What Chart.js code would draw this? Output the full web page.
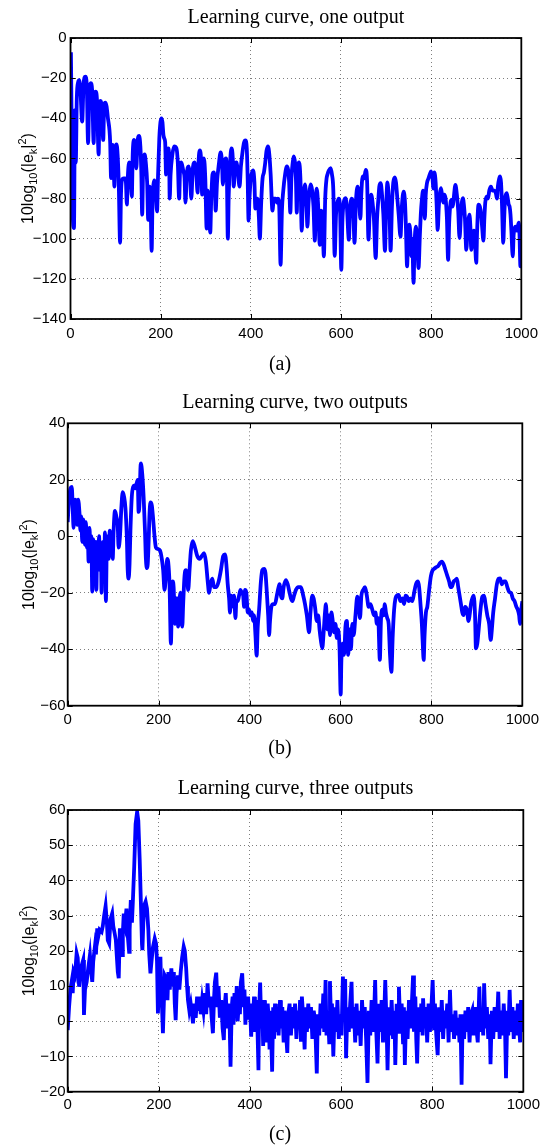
<!DOCTYPE html>
<html>
<head>
<meta charset="utf-8">
<script src="https://cdn.jsdelivr.net/npm/chart.js@4.4.1/dist/chart.umd.min.js"></script>
<style>
  body { margin: 0; background: #fff; width: 544px; height: 1145px; position: relative; overflow: hidden; }
  .panel { position: absolute; left: 0; width: 544px; }
  .cap { position: absolute; width: 60px; margin-left: -30px; text-align: center;
         font-family: 'Liberation Serif', 'Times New Roman', serif; font-size: 20px; line-height: 20px; color: #000; }
</style>
</head>
<body>
<div class="panel" style="top:0;height:380px"><canvas id="chartA"></canvas></div>
<div class="panel" style="top:380px;height:380px"><canvas id="chartB"></canvas></div>
<div class="panel" style="top:760px;height:385px"><canvas id="chartC"></canvas></div>
<div class="cap" style="left:280px;top:353px">(a)</div>
<div class="cap" style="left:280px;top:737px">(b)</div>
<div class="cap" style="left:280px;top:1123px">(c)</div>
<script>
// iteration k, error in dB: [k, 10log10(|e_k|^2)]
const curveOne = [
  [0,-85],[1,-8],[3,-60],[5,-88],[7.7,-94.7],[9.8,-36],[11.7,-62],[14,-30],[17,-22],[19.3,-21],
  [22,-26],[25.9,-41.6],[29,-23],[33,-19.3],[36,-23],[39,-52.4],[42,-25],[44.9,-22.5],[48,-26],[51.4,-52.4],
  [53.5,-30],[55.8,-26.7],[59,-32],[62.4,-58],[64.5,-34],[66.7,-31.4],[69.5,-35],[72.6,-50.8],[74.5,-35],[77,-32.2],
  [80,-34],[83,-40],[86.4,-45.8],[88,-52],[90,-69.8],[92,-54],[93.7,-53.3],[95.5,-60],[97.4,-74],[99.5,-56],
  [102,-53],[104.5,-58],[107,-72],[110,-102],[112,-78],[114,-71],[118,-70],[121,-70],[123,-72],[125,-83],
  [127,-70],[130,-62],[133,-66],[136,-79],[138,-58],[141,-50.8],[143.5,-54],[146,-65],[148.5,-52],[152,-48.8],
  [155,-54],[157,-66],[159,-88],[161,-66],[164.5,-58],[167,-62],[170,-72],[172.4,-90.6],[174,-76],[175.5,-74],
  [177.5,-80],[180,-106],[182,-80],[184,-73],[186,-71],[189,-76],[192,-86.4],[194,-70],[197,-50],[199.5,-42],
  [201.7,-40],[204,-42],[206,-48],[208,-50],[210,-52],[212,-68],[214,-56],[217,-55],[219,-62],[220,-80],
  [222,-68],[226,-58],[230,-54],[235,-55],[238,-62],[241,-80],[243,-66],[246,-62],[250,-66],[253,-70],
  [255,-82],[258,-68],[262,-64],[265,-68],[268,-80],[271,-66],[275,-62],[279,-68],[282,-77],[284,-62],
  [287,-56],[290,-62],[292,-78],[294,-65],[296,-60],[299,-70],[302,-95],[304,-76],[306,-78],[308,-90],
  [310,-97],[312,-82],[315,-68],[318,-67],[320,-72],[322,-86],[325,-72],[329,-63],[333,-57],[336,-62],
  [338,-73],[341,-62],[345,-60],[347,-70],[349,-100],[351,-78],[354,-62],[357,-55],[360,-60],[362,-74],
  [365,-64],[368,-62],[371,-66],[375,-74],[378,-64],[382,-56],[385,-52],[388,-51],[391,-55],[393,-70],
  [395,-91],[397,-80],[400,-70],[405,-66],[408,-72],[410,-85],[412,-80],[415,-80],[418,-90],[420,-100],
  [423,-82],[426,-70],[429,-67],[432,-62],[435,-56],[438,-54],[441,-58],[444,-68],[448,-86],[451,-80],
  [455,-80],[458,-82],[460,-80],[463,-84],[466,-113],[469,-86],[472,-76],[476,-68],[480,-64],[483,-66],
  [485,-72],[487.6,-87],[490,-70],[493,-62],[495,-59],[498,-62],[500,-70],[502,-87],[504,-64],[507,-62],
  [510,-70],[513,-96],[515,-84],[518,-76],[520,-73],[523,-80],[525.6,-94],[528,-82],[531,-75],[533,-73],
  [536,-76],[539,-84],[542,-101],[544,-82],[546,-75],[549,-82],[553,-103],[556,-86],[559,-90],[562,-108.8],
  [565,-80],[568,-70],[570,-68],[573,-66],[577,-64.8],[580,-68],[583,-76],[586,-108.5],[589,-88],[592,-82],
  [595,-80],[598,-86],[600.7,-115.5],[603,-92],[606,-82],[610,-79.8],[613,-84],[617.5,-100.5],[620,-86],[624,-80],
  [627,-84],[630,-102],[633,-82],[637,-74],[640,-80],[643,-90],[645,-78],[648,-69],[651,-70],[655,-65.7],
  [658,-72],[661,-100.5],[664,-84],[667,-78],[670,-82],[673,-90],[677,-109.6],[680,-90],[683,-80],[685,-74],
  [688,-72.3],[691,-78],[694,-88],[697.6,-106],[700,-86],[703,-72],[706,-80],[708,-90],[710,-106],[713,-84],
  [716,-72],[719.5,-69.5],[722,-72],[725,-80],[728,-88],[732,-99],[735,-84],[739,-76.5],[742,-82],[744,-94],
  [746.6,-113.8],[749,-98],[751.6,-93],[754,-98],[756,-108.8],[758,-100],[761,-122],[763,-104],[766,-94],[769,-100],
  [772,-114.6],[775,-98],[777,-88],[779.4,-80.6],[782,-76],[784,-80],[786,-90],[788,-78],[791,-72],[794,-70],
  [797,-68],[799.8,-66.5],[803,-70],[805,-75],[807,-67],[810,-72],[812,-82],[814.5,-95.6],[817,-84],[819,-78],
  [821.7,-74.8],[824,-78],[826.7,-82],[829,-78],[832,-80],[835,-90],[837.6,-110.5],[840,-92],[843,-82],[845,-80.6],
  [848,-84],[850,-80],[853.8,-73.2],[857,-78],[860,-86],[863,-99.7],[866,-88],[868,-82],[870.5,-79.8],[873,-84],
  [875,-90],[878,-105.5],[881,-94],[883,-90],[885,-88],[887,-94],[889,-105.5],[892,-98],[895,-96],[897,-100],
  [900,-112],[902,-96],[905,-83],[908,-84],[911,-88],[913,-94],[916,-101],[918,-90],[920,-82],[923,-79],
  [926,-80],[929,-76],[932.6,-74],[936,-76],[940,-76],[943.5,-77.3],[946,-80],[948,-74],[951,-70],[953,-69],
  [955,-72],[957,-82],[960,-102],[962,-90],[964,-80],[967.6,-77.3],[970,-80],[972,-83],[974,-84],[976,-88],
  [978,-96],[981,-108.8],[983,-98],[985,-95],[987,-94],[990,-96],[992,-94],[994.5,-92],[996,-98],[998,-113.8],
  [1000,-100]
];

const curveTwo = [
  [0,5],[3,13],[6,17],[9,17.5],[11,10],[13,3],[16,13],[19,12],[21,4],[23,13],
  [26,8],[28,2],[30,7],[32,-2],[34,6],[36,3],[38,-3],[40,5],[42,-4],[44,1],
  [46,-9],[48,3],[50,-6],[52,0],[54,-19.6],[56,-1],[58,-5],[60,-13],[62,-2],[63,-19],
  [65,-3],[67,-9],[69,0],[71,-12],[73,-3],[74.5,-20],[76,-4],[78,-2],[80,-13],[82,1.4],
  [84,-23],[86,-3],[88,0],[90,-8],[92.7,2],[95,-3],[97,1],[99,-8],[101,2],[104,9],
  [107,7],[110,4],[112,-4],[115,0],[118,10],[121,15.6],[124,14],[127,10],[130,0],[132,-12],
  [134,-15],[136,-10],[138,2],[141,14],[144,17.5],[147,18],[150,17],[152,19],[154,20],[156,8.6],
  [158,12],[160,24],[161,25.8],[164,22],[167,14],[170,2],[172,-8],[174.6,-11.3],[176,-10],[178,-2],
  [180,8],[182,12],[185,11],[188,6],[191,0],[194,-4],[198,-4.5],[203,-5],[207,-8],[210,-12],
  [213,-19],[216,-14],[219,-8],[221,-9],[224,-17],[227,-38],[229,-25],[231,-16],[233,-18],[236,-31],
  [238,-22],[241,-22],[243,-32],[245,-25],[248,-20],[250,-28],[252,-32],[254,-24],[257,-14],[260,-12],
  [263,-15],[265,-19],[268,-12],[271,-5],[275,-1.7],[280,-4],[285,-7],[290,-8],[295,-7],[300,-6],
  [304,-9],[308,-16],[311,-20],[314,-17],[318,-15],[322,-18],[327,-18],[332,-16],[337,-12],[342,-7],
  [346,-6.4],[349,-10],[352,-17],[355,-22],[357,-27],[359,-21],[362,-22],[364,-25],[366,-21],[369,-29],
  [371,-23],[374,-23],[377,-21],[380,-19],[383,-20],[386,-21],[388,-25],[390,-19],[393,-20],[396,-27],
  [399,-26],[402,-28],[405,-27],[408,-30],[410,-28],[413,-35],[415.6,-42.3],[418,-32],[421,-26],[425,-16],
  [428,-12],[432,-11.6],[435,-13],[438,-20],[441,-28],[443,-35],[445,-30],[448,-25],[452,-24],[456,-24],
  [460,-21],[464,-18],[466,-17],[469,-21],[472,-22],[475,-18],[480,-15.5],[484,-17],[488,-20],[491,-22],
  [494.5,-23],[498,-21],[502,-19],[507,-18],[513,-18],[518,-21],[522,-24],[526,-28],[531,-34],[534,-27],
  [538,-21],[541,-22],[544,-25],[548,-30],[551,-28],[554,-33],[557,-37],[560,-39.7],[563,-34],[566,-27],
  [568,-24],[571,-33],[574,-28],[577,-35],[580,-27],[583,-30],[586,-34],[589,-31],[592,-36],[595,-33],
  [598,-40],[600.5,-56],[602,-44],[605,-38],[608,-42],[611,-32],[614,-30],[617,-42],[620,-33],[623,-40],
  [626,-31],[629,-35],[633,-28],[637,-21.4],[640,-24],[643,-29],[646,-21],[650,-19],[654,-18],[658,-21],
  [662,-25],[666,-24],[670,-26],[674,-28],[677,-27],[680,-31],[683,-29],[686.6,-43.8],[689,-30],[692,-26],
  [695,-28],[697.5,-24],[700,-27],[703,-29],[706,-31],[709,-42],[712,-48],[715,-35],[718,-26],[721,-22],
  [724,-21],[728,-20.8],[732,-23],[736,-22],[740,-24],[743,-21],[746.5,-21.4],[750,-23],[754,-22],[758,-23],
  [762,-20],[766,-17],[770.6,-16],[773,-18],[776,-24],[779,-31],[781,-38],[783,-43.8],[785,-35],[788,-27],
  [791,-25],[795,-19],[799,-14],[802.8,-12],[806,-11.5],[810,-11],[815,-10.5],[819,-9.5],[823,-9],[827,-10],
  [831,-12],[835,-14],[839,-16],[842,-18],[845,-17.9],[849,-16],[853,-15.5],[856,-15],[859,-18],[862,-21],
  [865,-24],[868,-27],[871,-27.9],[874,-25],[878,-26],[881.7,-30],[884,-28],[887,-24],[890,-22],[893,-21],
  [896,-28],[898,-39.7],[901,-38],[904,-33],[908,-26],[912,-21.4],[916,-21],[919,-24],[923,-28],[927,-31],
  [930.5,-36.7],[933,-33],[936,-27],[940,-22],[944,-17],[948,-15],[951,-14.9],[955,-17],[959,-16],[963,-16],
  [967,-18],[971,-19.7],[975,-20],[979,-22],[983,-23],[987,-25],[990,-26],[993,-28],[995,-31],[997,-27],
  [1000,-23]
];

const curveThree = [
  [0,-2.5],[3,4],[6,9],[8.7,11.2],[11,8],[13,14],[16,13],[19.6,19.3],[22,18],[25,9.8],
  [28,14],[31,16],[34,17.4],[35.7,1.8],[38,9],[41.6,11.2],[45,15],[48.8,18.8],[51,15],[53.9,11.2],
  [56,17],[59.7,21.2],[62,19],[64.8,26.4],[67,24],[70,26],[74.4,25.4],[77,27],[80,30],[83.2,32.7],
  [86,28],[88,23],[91,22.1],[94,29],[97.6,30.6],[100,27],[103,25],[105.7,23],[108,18],[110,14],
  [112,12.2],[114.5,26.4],[117,22],[119.5,18.8],[121,25],[123,30.6],[126,28],[129,32],[131,25],[132,24],
  [134.8,19.7],[136,26],[138.5,34.4],[141,28],[143,34],[146,44],[149,56],[152.4,59.5],[155,57],[158,46],
  [161,32],[163,22],[164,20.2],[166,28],[168,33],[171,34],[174,32],[177,26],[179,19],[181.6,13.6],
  [184,17],[187,21],[191,23.5],[194,22],[196,17],[198,2.2],[200,8],[201,14],[203.5,18.3],[205,10],
  [207,4],[209,-3.4],[211,5],[213,13],[216.6,12],[219,6],[221,14],[224,9],[227.5,15],[230,10],
  [233,14],[235,5],[237,0.3],[239,8],[242,13],[245,9],[248,14],[251,18],[254.6,21.2],[257,20],
  [260,15],[262,10],[264,6],[267,3],[270,5],[273,2],[275,-0.6],[278,5],[281,1],[284,7],
  [287,3],[289.6,7],[292,2],[295,6],[298,3],[301,8],[304,2],[307,10.8],[310,4],[313,7],
  [316,1],[318.7,-3.4],[321,6],[323,11],[326,13.8],[329,4],[331,10],[334,1],[337,6],[340,-2],
  [342.7,-5.3],[345,5],[347,8],[350,-2],[352,5],[355,2],[357.4,-12.9],[360,4],[362,7],[364,-1],
  [366,8],[369,3],[371,10],[373,0],[376,6],[378,2],[380,11],[383,13.6],[386,4],[388,9],
  [390,-1],[392,6],[394,2],[396,7],[398,1],[400,5],[402.7,-4.4],[405,5],[407,2],[409,7],
  [411,-3],[413,4],[415,6],[418.7,-13.9],[420,3],[422.4,11],[425,-2],[427,4],[429,-7],[431,6],
  [433,-3],[435,3],[437,-6],[439,5],[441,1],[443,-8],[445,3],[448.7,-14.3],[451,4],[453,-5],
  [455,5],[457,-3],[460,2],[463,-4],[466,6],[468,-2],[471,4],[474,-6],[476,3],[479,-3],
  [482,-9],[484,2],[487,5],[490,-4],[493,4],[496,-2],[499,5],[502,-5],[505,3],[508,0],
  [510,6],[512,-5.8],[514,7],[517,1],[520,-8],[522,4],[525,-3],[528,5],[531,-2],[534,4],
  [537,-5],[540,3],[543,0],[546.7,-14.8],[549,2],[552,-4],[555,5],[558,-2],[561,7.9],[563,-3],
  [566,11.7],[568,-4],[571,3],[574,-6],[575.6,11.4],[578,0],[580,5],[583,-10],[586,4],[589,-3],
  [592,6],[595,-5],[598,2],[601,-4],[604,12.7],[607,3],[609,12],[611,-10.5],[614,4],[617,-3],
  [620,5],[623,11.2],[625,-2],[628,4],[631,-6],[634,5],[637,-4],[640,3],[643,-7],[646,6],
  [649,-2],[652,4],[655,-5],[658,-17.5],[661,3],[664,-4],[667,6],[670,-3],[673,4],[674.8,11.7],
  [677,-2],[680,-12],[683,5],[686,-3],[689,6],[692,-6],[695,3],[697,11.7],[700,-2],[702,-13.9],
  [705,4],[708,-4],[711,6],[714,-5],[717,3],[719,-12.4],[722,5],[725,-3],[727,9.8],[730,-2],
  [733,5],[736,-6],[738,4],[740,-12.4],[743,3],[746,-5],[749,6],[752,-2],[755,4],[758,13],
  [760,-3],[763,7],[765,-5],[767,-12],[770,4],[773,-3],[776,5],[779,-4],[780,6.5],[783,-2],
  [786,4],[789,-6],[792,5],[795,-3],[798,3],[801,11.7],[804,-2],[806,5],[809,-4],[812,-9.6],
  [815,4],[818,-3],[821,6],[824,-5],[827,3],[830,-2],[833,5],[836,-6],[839,8.9],[842,-3],
  [845,2],[848,-5],[851,3],[854,-4],[857,1],[860,-6],[862,2],[864.5,-18],[867,2],[870,-5],
  [873,3],[876,-3],[879,4],[882,-6],[885,2],[888,3.2],[891,-4],[894,4],[897,-2],[900,-6],
  [903.5,9.8],[906,-3],[909,3],[912,-4],[914,10.8],[917,-2],[920,4],[923,-5],[926,2],[928,-12.2],
  [931,3],[934,-5],[937,4],[940,-3],[943,2],[945,8.4],[948,-5],[951,3],[954,-4],[957,5],
  [960,-3],[962,-16.2],[965,3],[967,-4],[970,8.9],[973,-3],[976,4],[979,-5],[982,3],[985,-4],
  [988,5],[991,-2],[993,-6],[995,6],[998,-3],[1000,4]
];

const titles = ['Learning curve, one output', 'Learning curve, two outputs', 'Learning curve, three outputs'];
const kRange = [0, 1000, 200];
const yRangeOne = [-140, 0, 20];
const yRangeTwo = [-60, 40, 20];
const yRangeThree = [-20, 60, 10];

const sans = "'Liberation Sans', Arial, sans-serif";
const serif = "'Liberation Serif', 'Times New Roman', serif";

// box frame, inward ticks on all four sides, y label with sub/superscripts
const framePlugin = {
    id: 'frame',
    afterDraw(chart) {
        const { ctx, chartArea: a, scales: { x, y } } = chart;
        const tl = 5;
        ctx.save();
        ctx.strokeStyle = '#000';
        ctx.lineWidth = 1;
        ctx.beginPath();
        x.ticks.forEach(t => {
            const px = Math.round(x.getPixelForValue(t.value)) + 0.5;
            ctx.moveTo(px, a.bottom); ctx.lineTo(px, a.bottom - tl);
            ctx.moveTo(px, a.top); ctx.lineTo(px, a.top + tl);
        });
        y.ticks.forEach(t => {
            const py = Math.round(y.getPixelForValue(t.value)) + 0.5;
            ctx.moveTo(a.left, py); ctx.lineTo(a.left + tl, py);
            ctx.moveTo(a.right, py); ctx.lineTo(a.right - tl, py);
        });
        ctx.stroke();
        ctx.lineWidth = 1.8;
        ctx.strokeRect(a.left, a.top, a.right - a.left, a.bottom - a.top);

        const parts = [['10log', 16, 0], ['10', 11, 4], ['(|e', 16, 0], ['k', 11, 4], ['|', 16, 0], ['2', 11, -7], [')', 16, 0]];
        let total = 0;
        parts.forEach(p => { ctx.font = p[1] + 'px ' + sans; total += ctx.measureText(p[0]).width; });
        ctx.translate(chart.options.labelX, (a.top + a.bottom) / 2);
        ctx.rotate(-Math.PI / 2);
        ctx.fillStyle = '#000';
        ctx.textBaseline = 'alphabetic';
        let cx = -total / 2;
        parts.forEach(p => {
            ctx.font = p[1] + 'px ' + sans;
            ctx.fillText(p[0], cx, p[2]);
            cx += ctx.measureText(p[0]).width;
        });
        ctx.restore();
    }
};

function minus(v) {
    return String(v).replace('-', '\u2212');
}

function makeChart(id, curve, title, yRange, box, smooth) {
    const ctx = document.getElementById(id);
    return new Chart(ctx, {
        type: 'line',
        data: {
            datasets: [{
                data: curve.map(p => ({ x: p[0], y: p[1] })),
                borderColor: '#0000ff',
                borderWidth: 3.8,
                pointRadius: 0,
                fill: false,
                cubicInterpolationMode: smooth ? 'monotone' : 'default',
                tension: 0
            }]
        },
        options: {
            responsive: true,
            maintainAspectRatio: false,
            animation: false,
            devicePixelRatio: 1,
            labelX: box.labelX,
            layout: {
                padding: { left: 0, top: 0, right: 544 - box.right, bottom: box.h - box.bottom - 30 }
            },
            scales: {
                x: {
                    type: 'linear',
                    min: kRange[0], max: kRange[1],
                    afterFit: s => { s.height = 30; },
                    ticks: { stepSize: kRange[2], autoSkip: false, maxRotation: 0, padding: box.xPad,
                             color: '#000', font: { family: sans, size: 15 }, callback: minus },
                    grid: { color: 'rgba(0,0,0,0.5)', lineWidth: 1, drawTicks: false },
                    border: { display: false, dash: [1, 3] }
                },
                y: {
                    min: yRange[0], max: yRange[1],
                    afterFit: s => { s.width = box.left; },
                    ticks: { stepSize: yRange[2], padding: box.yPad,
                             color: '#000', font: { family: sans, size: 15 }, callback: minus },
                    grid: { color: 'rgba(0,0,0,0.5)', lineWidth: 1, drawTicks: false },
                    border: { display: false, dash: [1, 3] }
                }
            },
            plugins: {
                legend: { display: false },
                tooltip: { enabled: false },
                title: {
                    display: true,
                    fullSize: false,
                    text: title,
                    color: '#000',
                    font: { family: serif, size: 20, weight: 'normal', lineHeight: 1.2 },
                    padding: { top: box.titleY - 12, bottom: box.top - (box.titleY - 12) - 24 }
                }
            }
        },
        plugins: [framePlugin]
    });
}

makeChart('chartA', curveOne, titles[0], yRangeOne,
    { h: 380, left: 70.5, right: 527.5, top: 38, bottom: 319, titleY: 18, labelX: 33, xPad: 6, yPad: 4 }, true);
makeChart('chartB', curveTwo, titles[1], yRangeTwo,
    { h: 380, left: 67.7, right: 524, top: 43.3, bottom: 325.7, titleY: 23, labelX: 34, xPad: 5, yPad: 2 }, true);
makeChart('chartC', curveThree, titles[2], yRangeThree,
    { h: 385, left: 67.7, right: 524.6, top: 50, bottom: 331.7, titleY: 29, labelX: 34, xPad: 4, yPad: 2 }, false);
</script>
</body>
</html>
